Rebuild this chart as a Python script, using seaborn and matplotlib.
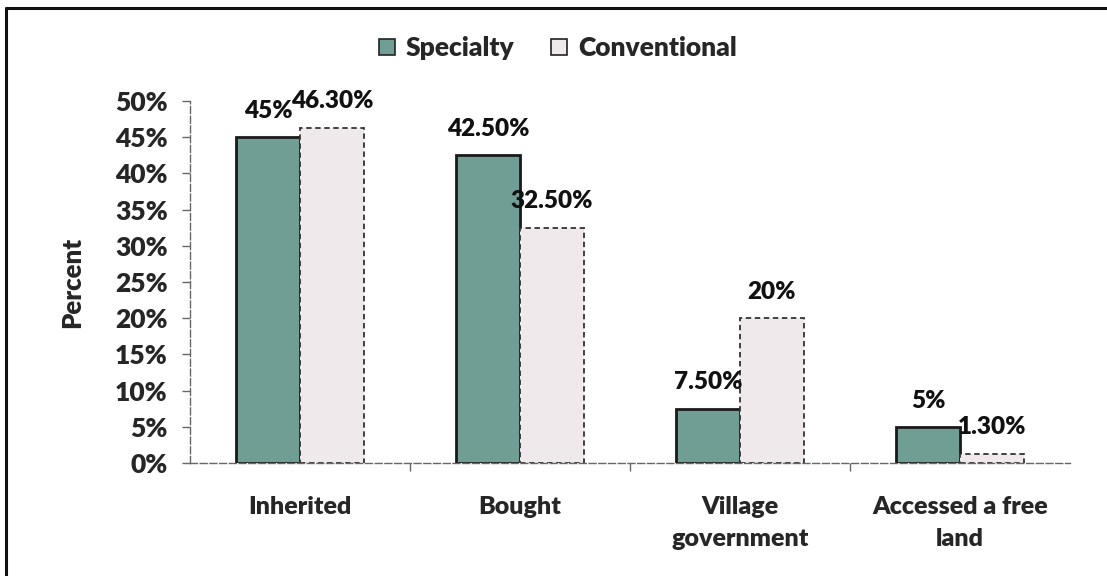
import matplotlib
matplotlib.use("Agg")
import matplotlib.pyplot as plt
from matplotlib.patches import Patch
from matplotlib.lines import Line2D
import numpy as np
import pandas as pd
import seaborn as sns

# Land acquisition by farm type
categories = ["Inherited", "Bought", "Village\ngovernment", "Accessed a free\nland"]
series = ["Specialty", "Conventional"]
specialty = [45, 42.5, 7.5, 5]
conventional = [46.3, 32.5, 20, 1.3]
specialty_labels = ["45%", "42.50%", "7.50%", "5%"]
conventional_labels = ["46.30%", "32.50%", "20%", "1.30%"]
y_ticks = [0, 5, 10, 15, 20, 25, 30, 35, 40, 45, 50]

df = pd.DataFrame({
    "Source": categories * 2,
    "Farm": [series[0]] * 4 + [series[1]] * 4,
    "Percent": specialty + conventional,
})

sns.set_style("white")
plt.rcParams["font.family"] = ["Lato", "DejaVu Sans"]
plt.rcParams["font.weight"] = "heavy"

W = "heavy"
colors = {"Specialty": "#709e95", "Conventional": "#f0e9eb"}

fig = plt.figure(figsize=(11.07, 5.76), dpi=100)
ax = fig.add_axes([0.1716, 0.1962, 0.7950, 0.6285])

sns.barplot(data=df, x="Source", y="Percent", hue="Farm", order=categories,
            hue_order=series, palette=colors, width=0.58, ax=ax,
            legend=False, saturation=1)

# bar outlines: solid for specialty, broken for conventional
for container, name in zip(ax.containers, series):
    for bar in container:
        if name == "Specialty":
            bar.set_edgecolor("#1a1a1a")
            bar.set_linewidth(2.0)
        else:
            bar.set_edgecolor("#333333")
            bar.set_linewidth(1.3)
            bar.set_linestyle((0, (3, 2)))

# value labels
for container, labels in zip(ax.containers, [specialty_labels, conventional_labels]):
    ax.bar_label(container, labels=labels, padding=11, fontsize=17.5,
                 fontweight=W, color="#111111")

ax.set_ylim(0, 50)
ax.set_xlim(-0.5, 3.5)
ax.set_yticks(y_ticks)
ax.set_yticklabels([f"{t}%" for t in y_ticks], fontsize=19, fontweight=W)
ax.set_xticks(range(len(categories)))
ax.set_xticklabels(categories, fontsize=18, fontweight=W, linespacing=1.55)
ax.set_xlabel("")
ax.set_ylabel("Percent", fontsize=18.5, fontweight=W, labelpad=22)

for side in ["top", "right"]:
    ax.spines[side].set_visible(False)
for side in ["left", "bottom"]:
    ax.spines[side].set_color("#666666")
    ax.spines[side].set_linewidth(1.0)
    ax.spines[side].set_linestyle((0, (5, 2)))

ax.tick_params(axis="y", direction="out", length=6, width=1, color="#666666",
               left=True, pad=10)
ax.tick_params(axis="x", length=0, pad=24)
ax.set_xticks([0.5, 1.5, 2.5], minor=True)
ax.tick_params(axis="x", which="minor", direction="out", length=6, width=1,
               color="#666666", bottom=True)

handles = [Patch(facecolor=colors[s], edgecolor="#222222", linewidth=1.2, label=s)
           for s in series]
fig.legend(handles=handles, loc="center", bbox_to_anchor=(0.504, 0.916), ncol=2,
           frameon=False, handlelength=0.6, handleheight=0.6,
           handletextpad=0.4, columnspacing=1.4, prop={"weight": W, "size": 19})

# outer frame
fig.add_artist(Line2D([0.0054, 0.0054], [0.0, 0.986], transform=fig.transFigure,
                      color="#111111", linewidth=2.2))
fig.add_artist(Line2D([0.0054, 1.0], [0.986, 0.986], transform=fig.transFigure,
                      color="#111111", linewidth=2.2))

fig.savefig("out.png", dpi=100)
